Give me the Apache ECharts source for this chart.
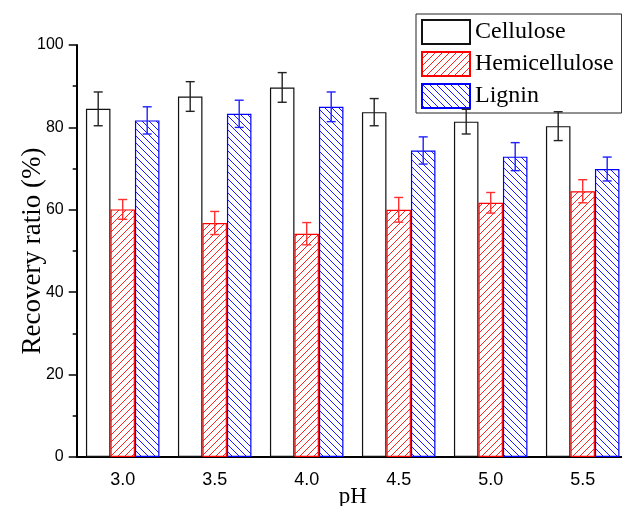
<!DOCTYPE html>
<html>
<head>
<meta charset="utf-8">
<script src="https://cdn.jsdelivr.net/npm/echarts@6/dist/echarts.min.js"></script>
<style>html,body{margin:0;padding:0;background:#fff}#c{width:622px;height:506px}</style>
</head>
<body>
<div id="c"></div>
<script>
const categories = ['3.0', '3.5', '4.0', '4.5', '5.0', '5.5'];
const seriesNames = ['Cellulose', 'Hemicellulose', 'Lignin'];
const cellulose = [84.5, 87.5, 89.7, 83.7, 81.4, 80.3];
const celluloseErr = [4.1, 3.6, 3.6, 3.3, 3.0, 3.5];
const hemicellulose = [60.1, 56.8, 54.2, 60.0, 61.7, 64.5];
const hemicelluloseErr = [2.4, 2.8, 2.7, 3.0, 2.5, 2.8];
const lignin = [81.7, 83.3, 85.0, 74.4, 72.9, 69.9];
const ligninErr = [3.3, 3.3, 3.6, 3.3, 3.4, 2.9];

function hatch(color, dir) {
  const s = 7;
  const c = document.createElement('canvas');
  c.width = s; c.height = s;
  const g = c.getContext('2d');
  g.fillStyle = '#fff'; g.fillRect(0, 0, s, s);
  g.strokeStyle = color; g.lineWidth = 1;
  g.beginPath();
  if (dir === '/') {
    g.moveTo(-1, s + 1); g.lineTo(s + 1, -1);
    g.moveTo(-1, 1); g.lineTo(1, -1);
    g.moveTo(s - 1, s + 1); g.lineTo(s + 1, s - 1);
  } else {
    g.moveTo(-1, -1); g.lineTo(s + 1, s + 1);
    g.moveTo(-1, s - 1); g.lineTo(1, s + 1);
    g.moveTo(s - 1, -1); g.lineTo(s + 1, 1);
  }
  g.stroke();
  return { image: c, repeat: 'repeat' };
}

const BW = 24.5;
const styles = [
  { fill: '#ffffff', border: '#111', err: '#222', offset: -BW },
  { fill: hatch('#ff2020', '/'), border: '#ff0000', err: '#ff3030', offset: 0 },
  { fill: hatch('#1a1aff', '\\'), border: '#0000ff', err: '#2020ff', offset: BW }
];
const values = [cellulose, hemicellulose, lignin];
const errs = [celluloseErr, hemicelluloseErr, ligninErr];

const series = [];
values.forEach((vals, k) => {
  series.push({
    name: seriesNames[k], type: 'bar', data: vals, barWidth: BW, barGap: 0,
    itemStyle: { color: styles[k].fill, borderColor: styles[k].border, borderWidth: 1.2 },
    emphasis: { disabled: true }, z: 2
  });
});
values.forEach((vals, k) => {
  const st = styles[k];
  series.push({
    type: 'custom', z: 5, silent: true,
    data: vals.map((v, i) => [i, v, errs[k][i]]),
    encode: { x: 0, y: 1 },
    renderItem: function (params, api) {
      const i = api.value(0), v = api.value(1), e = api.value(2);
      const t = api.coord([i, v + e]);
      const b = api.coord([i, v - e]);
      const x = t[0] + st.offset;
      const cap = 4.5;
      const style = { stroke: st.err, lineWidth: 1.4, fill: null };
      return { type: 'group', children: [
        { type: 'line', shape: { x1: x, y1: t[1], x2: x, y2: b[1] }, style },
        { type: 'line', shape: { x1: x - cap, y1: t[1], x2: x + cap, y2: t[1] }, style },
        { type: 'line', shape: { x1: x - cap, y1: b[1], x2: x + cap, y2: b[1] }, style }
      ]};
    }
  });
});

const chart = echarts.init(document.getElementById('c'), null, { renderer: 'canvas' });
chart.setOption({
  animation: false,
  backgroundColor: '#fff',
  grid: { left: 76.7, top: 45, width: 552, bottom: 49, containLabel: false, outerBoundsMode: 'none' },
  legend: {
    data: seriesNames, orient: 'vertical', left: 416, top: 14, icon: 'rect',
    itemWidth: 48, itemHeight: 24, itemGap: 6,
    padding: [5, 8, 4, 5], borderColor: '#222', borderWidth: 1,
    textStyle: { fontFamily: 'Liberation Serif', fontSize: 24, color: '#000' },
    selectedMode: false
  },
  xAxis: [{
    type: 'category', data: categories, gridIndex: 0, position: 'bottom',
    name: 'pH', nameLocation: 'middle', nameGap: 28, nameMoveOverlap: false,
    nameTextStyle: { fontFamily: 'Liberation Serif', fontSize: 23, color: '#000' },
    axisLine: { lineStyle: { color: '#000', width: 2 } },
    axisTick: { alignWithLabel: true, length: 4, lineStyle: { color: '#000', width: 1.5 } },
    axisLabel: { fontFamily: 'Liberation Sans', fontSize: 18, color: '#000', margin: 14 },
    splitLine: { show: false }
  }, {
    type: 'category', data: categories, gridIndex: 0, position: 'bottom',
    axisLine: { show: false },
    axisTick: { alignWithLabel: false, length: 4, lineStyle: { color: '#000', width: 1.5 } },
    axisLabel: { show: false },
    splitLine: { show: false }
  }],
  yAxis: {
    type: 'value', min: 0, max: 100, interval: 20,
    name: 'Recovery ratio (%)', nameLocation: 'middle', nameGap: 30, nameMoveOverlap: false,
    nameTextStyle: { fontFamily: 'Liberation Serif', fontSize: 27, color: '#000' },
    axisLine: { show: true, lineStyle: { color: '#000', width: 2 } },
    axisTick: { show: true, length: 8, lineStyle: { color: '#000', width: 1.5 } },
    minorTick: { show: true, splitNumber: 2, length: 4, lineStyle: { color: '#000', width: 1.5 } },
    axisLabel: { fontFamily: 'Liberation Sans', fontSize: 16, color: '#000', margin: 13 },
    splitLine: { show: false }
  },
  series
});
</script>
</body>
</html>
